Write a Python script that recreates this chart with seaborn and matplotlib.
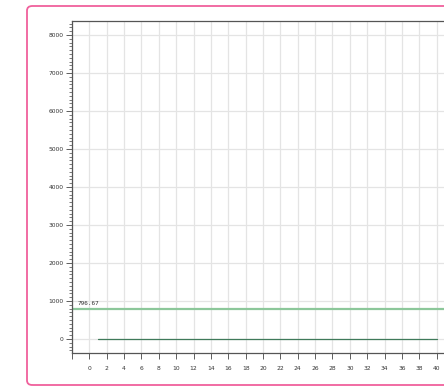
#!/usr/bin/env python3
"""
Flat series at zero with a mean reference line, framed in a pink card.
"""

import matplotlib.pyplot as plt
import pandas as pd
import seaborn as sns
from matplotlib.patches import FancyBboxPatch
from matplotlib.ticker import MultipleLocator

steps = [1, 2, 3, 4, 5, 6, 7, 8, 9, 10, 11, 12, 13, 14, 15, 16, 17, 18, 19, 20,
         21, 22, 23, 24, 25, 26, 27, 28, 29, 30, 31, 32, 33, 34, 35, 36, 37, 38, 39, 40]
values = [0, 0, 0, 0, 0, 0, 0, 0, 0, 0, 0, 0, 0, 0, 0, 0, 0, 0, 0, 0,
          0, 0, 0, 0, 0, 0, 0, 0, 0, 0, 0, 0, 0, 0, 0, 0, 0, 0, 0, 0]
mean_value = 796.67
mean_label = "796.67"
x_ticks = [-2, 0, 2, 4, 6, 8, 10, 12, 14, 16, 18, 20, 22, 24, 26, 28, 30, 32, 34, 36, 38, 40]
x_tick_labels = ["", "0", "2", "4", "6", "8", "10", "12", "14", "16", "18", "20",
                 "22", "24", "26", "28", "30", "32", "34", "36", "38", "40"]
y_ticks = [0, 1000, 2000, 3000, 4000, 5000, 6000, 7000, 8000]


def main() -> None:
    df = pd.DataFrame({"step": steps, "value": values})

    sns.set_theme(style="white")
    plt.rcParams["font.family"] = ["DejaVu Sans"]

    fig = plt.figure(figsize=(4.44, 3.87), dpi=100)
    fig.patch.set_facecolor("white")

    # pink card outline, clipped on the right like the reference
    card = FancyBboxPatch(
        (27 / 444, 2 / 387), 1.0, (381 - 2) / 387,
        boxstyle="round,pad=0,rounding_size=0.012",
        transform=fig.transFigure, facecolor="none",
        edgecolor="#f0609c", linewidth=1.3, clip_on=False,
    )
    fig.patches.append(card)

    ax = fig.add_axes([72 / 444, 34 / 387, 382 / 444, 332 / 387])
    ax.set_facecolor("white")

    ax.axhline(mean_value, color="#8cc79a", linewidth=1.6, zorder=2)
    ax.text(-1.3, mean_value + 90, mean_label, fontsize=4.3, color="#333333",
            family="DejaVu Sans Mono")

    sns.lineplot(ax=ax, data=df, x="step", y="value", color="#3f7a5a",
                 linewidth=0.9, zorder=3)

    ax.set_xlim(-2, 42)
    ax.set_ylim(-368, 8368)
    ax.set_xticks(x_ticks)
    ax.set_xticklabels(x_tick_labels)
    ax.set_yticks(y_ticks)
    ax.yaxis.set_minor_locator(MultipleLocator(100))
    ax.set_xlabel("")
    ax.set_ylabel("")

    ax.grid(True, which="major", color="#e4e4e4", linewidth=0.9)
    ax.set_axisbelow(True)

    ax.tick_params(axis="both", which="major", labelsize=4.3, labelcolor="#333333",
                   length=4, width=0.6, color="#444444", direction="out",
                   bottom=True, left=True, pad=2)
    ax.tick_params(axis="y", which="minor", length=2, width=0.5,
                   color="#444444", left=True)
    ax.tick_params(axis="x", pad=5)

    for side in ("top", "left", "bottom"):
        ax.spines[side].set_color("#555555")
        ax.spines[side].set_linewidth(0.9)
    ax.spines["right"].set_visible(False)

    fig.savefig("out.png", dpi=100)


if __name__ == "__main__":
    main()
